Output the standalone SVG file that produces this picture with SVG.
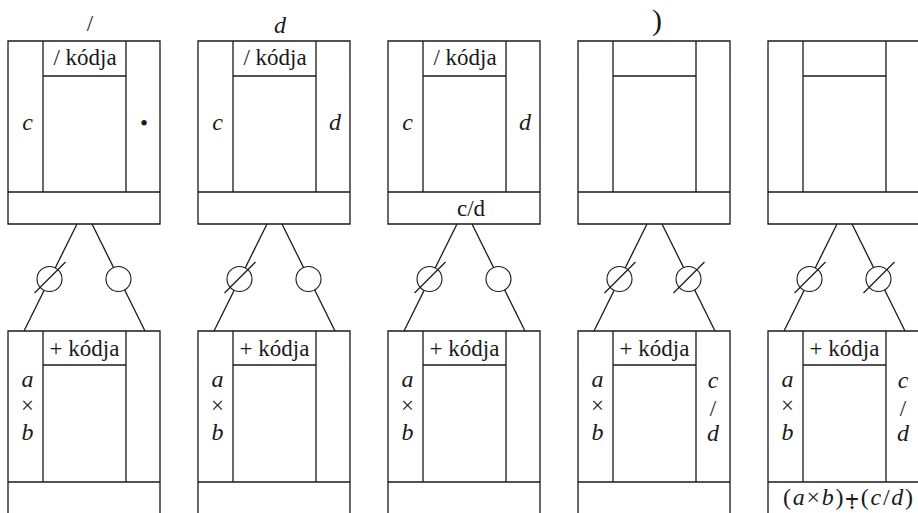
<svg xmlns="http://www.w3.org/2000/svg" width="918" height="513" viewBox="0 0 918 513">
  <style>
    .ln { stroke: #1a1a1a; stroke-width: 1.3; fill: none; }
    .circ { stroke: #1a1a1a; stroke-width: 1.1; fill: #ffffff; }
  </style>

  <!-- links from each upper frame down to the lower frame -->
  <g id="connectors" class="ln">
    <line x1="77" y1="224" x2="24" y2="331"/>
    <line x1="92" y1="224" x2="145" y2="331"/>
    <line x1="267" y1="224" x2="214" y2="331"/>
    <line x1="282" y1="224" x2="335" y2="331"/>
    <line x1="457" y1="224" x2="404" y2="331"/>
    <line x1="472" y1="224" x2="525" y2="331"/>
    <line x1="647" y1="224" x2="594" y2="331"/>
    <line x1="662" y1="224" x2="715" y2="331"/>
    <line x1="837" y1="224" x2="784" y2="331"/>
    <line x1="852" y1="224" x2="905" y2="331"/>
  </g>

  <!-- step 1 -->
  <g id="step1">
    <path class="ln" d="M8,41 H160 V224 H8 Z M8,192 H160 M43,41 V192 M126,41 V192 M43,76 H126 M8,520 V331 H160 V520 M8,482 H160 M43,331 V482 M126,331 V482 M43,365 H126"/>
    <circle class="circ" cx="49.5" cy="279" r="12.5"/>
    <line class="ln" x1="34.5" y1="293" x2="65.5" y2="262"/>
    <circle class="circ" cx="118.5" cy="279" r="12.5"/>
    <text font-family="'Liberation Serif', 'Times New Roman', serif" font-size="23" fill="#1a1a1a" text-anchor="middle" x="90" y="31">/</text>
    <text font-family="'Liberation Serif', 'Times New Roman', serif" font-size="23" fill="#1a1a1a" text-anchor="middle" x="85" y="65">/ kódja</text>
    <text font-family="'Liberation Serif', 'Times New Roman', serif" font-size="24" font-style="italic" fill="#1a1a1a" text-anchor="middle" x="27.5" y="130">c</text>
    <text font-family="'Liberation Serif', 'Times New Roman', serif" font-size="23" fill="#1a1a1a" text-anchor="middle" x="144" y="131">•</text>
    <text font-family="'Liberation Serif', 'Times New Roman', serif" font-size="23" fill="#1a1a1a" text-anchor="middle" x="84.5" y="356">+ kódja</text>
    <text font-family="'Liberation Serif', 'Times New Roman', serif" font-size="24" font-style="italic" fill="#1a1a1a" text-anchor="middle" x="27.5" y="387">a</text>
    <text font-family="'Liberation Serif', 'Times New Roman', serif" font-size="23" fill="#1a1a1a" text-anchor="middle" x="27.5" y="413">×</text>
    <text font-family="'Liberation Serif', 'Times New Roman', serif" font-size="24" font-style="italic" fill="#1a1a1a" text-anchor="middle" x="27.5" y="440">b</text>
  </g>

  <!-- step 2 -->
  <g id="step2">
    <path class="ln" d="M198,41 H350 V224 H198 Z M198,192 H350 M233,41 V192 M316,41 V192 M233,76 H316 M198,520 V331 H350 V520 M198,482 H350 M233,331 V482 M316,331 V482 M233,365 H316"/>
    <circle class="circ" cx="239.5" cy="279" r="12.5"/>
    <line class="ln" x1="224.5" y1="293" x2="255.5" y2="262"/>
    <circle class="circ" cx="308.5" cy="279" r="12.5"/>
    <text font-family="'Liberation Serif', 'Times New Roman', serif" font-size="24" font-style="italic" fill="#1a1a1a" text-anchor="middle" x="280" y="33">d</text>
    <text font-family="'Liberation Serif', 'Times New Roman', serif" font-size="23" fill="#1a1a1a" text-anchor="middle" x="275" y="65">/ kódja</text>
    <text font-family="'Liberation Serif', 'Times New Roman', serif" font-size="24" font-style="italic" fill="#1a1a1a" text-anchor="middle" x="217.5" y="130">c</text>
    <text font-family="'Liberation Serif', 'Times New Roman', serif" font-size="24" font-style="italic" fill="#1a1a1a" text-anchor="middle" x="335" y="130">d</text>
    <text font-family="'Liberation Serif', 'Times New Roman', serif" font-size="23" fill="#1a1a1a" text-anchor="middle" x="274.5" y="356">+ kódja</text>
    <text font-family="'Liberation Serif', 'Times New Roman', serif" font-size="24" font-style="italic" fill="#1a1a1a" text-anchor="middle" x="217.5" y="387">a</text>
    <text font-family="'Liberation Serif', 'Times New Roman', serif" font-size="23" fill="#1a1a1a" text-anchor="middle" x="217.5" y="413">×</text>
    <text font-family="'Liberation Serif', 'Times New Roman', serif" font-size="24" font-style="italic" fill="#1a1a1a" text-anchor="middle" x="217.5" y="440">b</text>
  </g>

  <!-- step 3 -->
  <g id="step3">
    <path class="ln" d="M388,41 H540 V224 H388 Z M388,192 H540 M423,41 V192 M506,41 V192 M423,76 H506 M388,520 V331 H540 V520 M388,482 H540 M423,331 V482 M506,331 V482 M423,365 H506"/>
    <circle class="circ" cx="429.5" cy="279" r="12.5"/>
    <line class="ln" x1="414.5" y1="293" x2="445.5" y2="262"/>
    <circle class="circ" cx="498.5" cy="279" r="12.5"/>
    <text font-family="'Liberation Serif', 'Times New Roman', serif" font-size="23" fill="#1a1a1a" text-anchor="middle" x="465" y="65">/ kódja</text>
    <text font-family="'Liberation Serif', 'Times New Roman', serif" font-size="24" font-style="italic" fill="#1a1a1a" text-anchor="middle" x="407.5" y="130">c</text>
    <text font-family="'Liberation Serif', 'Times New Roman', serif" font-size="24" font-style="italic" fill="#1a1a1a" text-anchor="middle" x="525" y="130">d</text>
    <text font-family="'Liberation Serif', 'Times New Roman', serif" font-size="23" fill="#1a1a1a" text-anchor="middle" x="471" y="216">c/d</text>
    <text font-family="'Liberation Serif', 'Times New Roman', serif" font-size="23" fill="#1a1a1a" text-anchor="middle" x="464.5" y="356">+ kódja</text>
    <text font-family="'Liberation Serif', 'Times New Roman', serif" font-size="24" font-style="italic" fill="#1a1a1a" text-anchor="middle" x="407.5" y="387">a</text>
    <text font-family="'Liberation Serif', 'Times New Roman', serif" font-size="23" fill="#1a1a1a" text-anchor="middle" x="407.5" y="413">×</text>
    <text font-family="'Liberation Serif', 'Times New Roman', serif" font-size="24" font-style="italic" fill="#1a1a1a" text-anchor="middle" x="407.5" y="440">b</text>
  </g>

  <!-- step 4 -->
  <g id="step4">
    <path class="ln" d="M578,41 H730 V224 H578 Z M578,192 H730 M613,41 V192 M696,41 V192 M613,76 H696 M578,520 V331 H730 V520 M578,482 H730 M613,331 V482 M696,331 V482 M613,365 H696"/>
    <circle class="circ" cx="619.5" cy="279" r="12.5"/>
    <line class="ln" x1="604.5" y1="293" x2="635.5" y2="262"/>
    <circle class="circ" cx="688.5" cy="279" r="12.5"/>
    <line class="ln" x1="673.5" y1="293" x2="704.5" y2="262"/>
    <text font-family="'Liberation Serif', 'Times New Roman', serif" font-size="30" fill="#1a1a1a" text-anchor="middle" x="657" y="30">)</text>
    <text font-family="'Liberation Serif', 'Times New Roman', serif" font-size="23" fill="#1a1a1a" text-anchor="middle" x="654.5" y="356">+ kódja</text>
    <text font-family="'Liberation Serif', 'Times New Roman', serif" font-size="24" font-style="italic" fill="#1a1a1a" text-anchor="middle" x="597.5" y="387">a</text>
    <text font-family="'Liberation Serif', 'Times New Roman', serif" font-size="23" fill="#1a1a1a" text-anchor="middle" x="597.5" y="413">×</text>
    <text font-family="'Liberation Serif', 'Times New Roman', serif" font-size="24" font-style="italic" fill="#1a1a1a" text-anchor="middle" x="597.5" y="440">b</text>
    <text font-family="'Liberation Serif', 'Times New Roman', serif" font-size="24" font-style="italic" fill="#1a1a1a" text-anchor="middle" x="713" y="388">c</text>
    <text font-family="'Liberation Serif', 'Times New Roman', serif" font-size="23" fill="#1a1a1a" text-anchor="middle" x="713" y="416">/</text>
    <text font-family="'Liberation Serif', 'Times New Roman', serif" font-size="24" font-style="italic" fill="#1a1a1a" text-anchor="middle" x="713" y="441">d</text>
  </g>

  <!-- step 5 -->
  <g id="step5">
    <path class="ln" d="M768,41 H920 V224 H768 Z M768,192 H920 M803,41 V192 M886,41 V192 M803,76 H886 M768,520 V331 H920 V520 M768,482 H920 M803,331 V482 M886,331 V482 M803,365 H886"/>
    <circle class="circ" cx="809.5" cy="279" r="12.5"/>
    <line class="ln" x1="794.5" y1="293" x2="825.5" y2="262"/>
    <circle class="circ" cx="878.5" cy="279" r="12.5"/>
    <line class="ln" x1="863.5" y1="293" x2="894.5" y2="262"/>
    <text font-family="'Liberation Serif', 'Times New Roman', serif" font-size="23" fill="#1a1a1a" text-anchor="middle" x="844.5" y="356">+ kódja</text>
    <text font-family="'Liberation Serif', 'Times New Roman', serif" font-size="24" font-style="italic" fill="#1a1a1a" text-anchor="middle" x="787.5" y="387">a</text>
    <text font-family="'Liberation Serif', 'Times New Roman', serif" font-size="23" fill="#1a1a1a" text-anchor="middle" x="787.5" y="413">×</text>
    <text font-family="'Liberation Serif', 'Times New Roman', serif" font-size="24" font-style="italic" fill="#1a1a1a" text-anchor="middle" x="787.5" y="440">b</text>
    <text font-family="'Liberation Serif', 'Times New Roman', serif" font-size="24" font-style="italic" fill="#1a1a1a" text-anchor="middle" x="903" y="388">c</text>
    <text font-family="'Liberation Serif', 'Times New Roman', serif" font-size="23" fill="#1a1a1a" text-anchor="middle" x="903" y="416">/</text>
    <text font-family="'Liberation Serif', 'Times New Roman', serif" font-size="24" font-style="italic" fill="#1a1a1a" text-anchor="middle" x="903" y="441">d</text>
    <text font-family="'Liberation Serif', 'Times New Roman', serif" font-size="24" fill="#1a1a1a" text-anchor="middle" x="848" y="505" textLength="130" lengthAdjust="spacing">(<tspan font-style="italic">a</tspan>×<tspan font-style="italic">b</tspan>)⨥(<tspan font-style="italic">c</tspan>/<tspan font-style="italic">d</tspan>)</text>
  </g>
</svg>
